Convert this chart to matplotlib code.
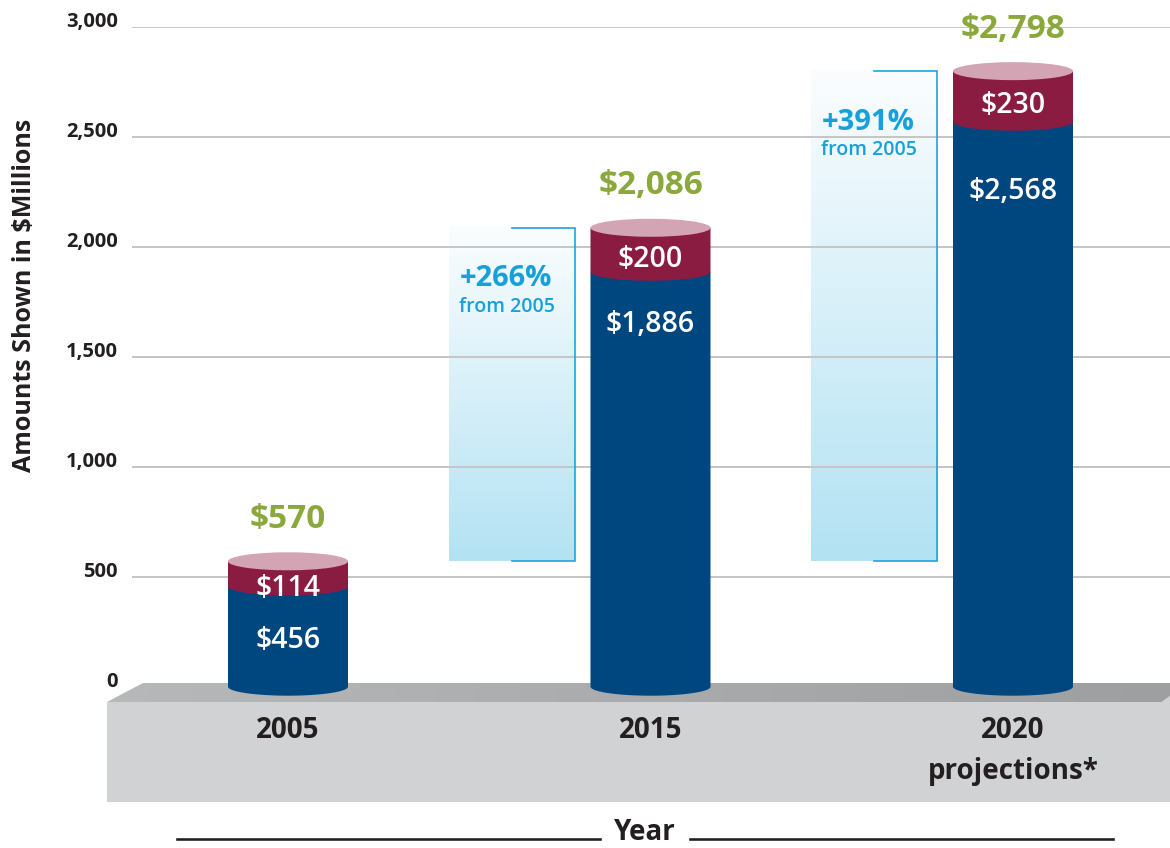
import numpy as np
import matplotlib
matplotlib.use("Agg")
import matplotlib.pyplot as plt
from matplotlib.patches import Polygon, Ellipse
from matplotlib.lines import Line2D
import matplotlib.colors as mcolors

# ---------------- data ----------------
categories = ["2005", "2015", "2020\nprojections*"]
base_values = [456, 1886, 2568]
top_values = [114, 200, 230]
y_ticks = [0, 500, 1000, 1500, 2000, 2500, 3000]
ylabel = "Amounts Shown in $Millions"
xlabel = "Year"

# ---------------- style ----------------
BLUE = "#00477f"
MAROON = "#8b1c41"
PINK = "#d3a4b3"
GREEN = "#8ba83c"
CYAN = "#16a1db"
DARK = "#231f20"
GRID = "#c6c6c6"

plt.rcParams["font.family"] = ["Open Sans", "DejaVu Sans"]

W, H, DPI = 1170, 848, 100
PX = 72 / DPI  # points per pixel
fig = plt.figure(figsize=(W / DPI, H / DPI), dpi=DPI)

# ---------------- background decoration (floor, year rule) ----------------
bg = fig.add_axes([0, 0, 1, 1], zorder=0)
bg.axis("off")
front = Polygon([(107, 702), (1162, 702), (1170, 696), (1170, 802), (107, 802)],
                closed=True, fc="#d1d2d4", ec="none")
bg.add_patch(front)
topface = Polygon([(107, 702), (143, 683), (1170, 683), (1170, 696), (1162, 702)],
                  closed=True, fc="none", ec="none")
bg.add_patch(topface)
cmap_floor = mcolors.LinearSegmentedColormap.from_list(
    "floor", ["#b7b8ba", "#aaabad", "#9e9fa1"])
im = bg.imshow(np.linspace(0, 1, 256).reshape(1, -1), extent=(107, 1170, 702, 683),
               cmap=cmap_floor, aspect="auto", interpolation="bicubic")
im.set_clip_path(topface)
bg.add_line(Line2D([177, 600], [839, 839], color=DARK, lw=2.6 * PX))
bg.add_line(Line2D([690, 1113], [839, 839], color=DARK, lw=2.6 * PX))
bg.set_xlim(0, W)
bg.set_ylim(H, 0)

# ---------------- main axes ----------------
y0_px, ytop_px = 686.7, 26.7
xl_px, xr_px = 132, 1170
ax = fig.add_axes([xl_px / W, (H - y0_px) / H, (xr_px - xl_px) / W, (y0_px - ytop_px) / H],
                  zorder=1)
ax.patch.set_alpha(0)
unit = 362.5        # pixels per category step
x_first = 288       # pixel of first category
ax.set_xlim((xl_px - x_first) / unit, (xr_px - x_first) / unit)
ax.set_ylim(0, 3000)
ypp = 3000 / (y0_px - ytop_px)   # data units per pixel (y)

for s in ax.spines.values():
    s.set_visible(False)
ax.set_axisbelow(True)
ax.set_yticks(y_ticks)
ax.set_yticklabels([f"{v:,}" for v in y_ticks])
ax.grid(axis="y", color=GRID, lw=2.0 * PX)
ax.yaxis.get_gridlines()[0].set_visible(False)
ax.tick_params(axis="y", length=0, pad=10.3, labelsize=14.5, labelcolor=DARK)
for lab in ax.get_yticklabels():
    lab.set_fontweight("bold")
    lab.set_va("baseline")

xs = np.arange(len(categories))
ax.set_xticks(xs)
ax.set_xticklabels(categories, fontsize=20, fontweight="bold", color=DARK, linespacing=1.55)
ax.tick_params(axis="x", length=0, pad=21)

ax.set_ylabel(ylabel, fontsize=18, fontweight="bold", color=DARK)
ax.yaxis.label.set_va("center")
ax.yaxis.set_label_coords((25 - xl_px) / (xr_px - xl_px), (y0_px - 295) / (y0_px - ytop_px))
ax.set_xlabel(xlabel, fontsize=20, fontweight="bold", color=DARK)
ax.xaxis.label.set_va("center")
ax.xaxis.set_label_coords((645 - xl_px) / (xr_px - xl_px), (y0_px - 833) / (y0_px - ytop_px))

bar_w = 120 / unit
ell_h = 18 * ypp


def segment(x, y0, y1):
    t = np.linspace(np.pi, 2 * np.pi, 80)
    pts = [(x - bar_w / 2, y1)] + list(zip(x + bar_w / 2 * np.cos(t),
                                           y0 + ell_h / 2 * np.sin(t))) + [(x + bar_w / 2, y1)]
    return pts


totals = [b + t for b, t in zip(base_values, top_values)]
top_label_drop = [27, 32, 34]     # px below the top
base_label_drop = [54, 53, 70]    # px below the blue top

for i, (b, t, tot) in enumerate(zip(base_values, top_values, totals)):
    ax.add_patch(Polygon(segment(i, 0, b), closed=True, fc=BLUE, ec="none", zorder=2,
                         clip_on=False))
    ax.add_patch(Polygon(segment(i, b, tot), closed=True, fc=MAROON, ec="none", zorder=2.1,
                         clip_on=False))
    ax.add_patch(Ellipse((i, tot), bar_w, ell_h, fc=PINK, ec="none", zorder=2.2, clip_on=False))
    ax.annotate(f"${tot:,}", xy=(i, tot), xytext=(0, 42 * PX), textcoords="offset points",
                ha="center", va="center", fontsize=24, fontweight="bold", color=GREEN, zorder=4)
    ax.annotate(f"${t:,}", xy=(i, tot), xytext=(0, -top_label_drop[i] * PX),
                textcoords="offset points", ha="center", va="center", fontsize=20.5,
                fontweight="semibold", color="white", zorder=4)
    ax.annotate(f"${b:,}", xy=(i, b), xytext=(0, -base_label_drop[i] * PX),
                textcoords="offset points", ha="center", va="center", fontsize=20.5,
                fontweight="semibold", color="white", zorder=4)

# growth callouts
box_w = 126 / unit
tick_w = 63 / unit
grad_cmap = mcolors.LinearSegmentedColormap.from_list("callout", ["#b3e2f3", "#fbfdfe"])
for i in range(1, len(categories)):
    tot = totals[i]
    pct = round((tot - totals[0]) / totals[0] * 100)
    bx = i - bar_w / 2 - 16 / unit
    ax.imshow(np.linspace(0, 1, 256).reshape(-1, 1), extent=(bx - box_w, bx, totals[0], tot),
              origin="lower", cmap=grad_cmap, aspect="auto", zorder=0.2,
              interpolation="bicubic")
    ax.plot([bx - tick_w, bx, bx, bx - tick_w], [tot, tot, totals[0], totals[0]],
            color=CYAN, lw=1.6 * PX, zorder=3, solid_joinstyle="miter")
    ax.annotate(f"+{pct}%", xy=(bx, tot), xytext=(-69 * PX, -51 * PX), textcoords="offset points",
                ha="center", va="center", fontsize=21, fontweight="bold", color=CYAN, zorder=4)
    ax.annotate("from 2005", xy=(bx, tot), xytext=(-68 * PX, -79 * PX), textcoords="offset points",
                ha="center", va="center", fontsize=14, fontweight="semibold", color=CYAN, zorder=4)

ax.set_xlim((xl_px - x_first) / unit, (xr_px - x_first) / unit)
ax.set_ylim(0, 3000)

fig.savefig("out.png", dpi=DPI)
